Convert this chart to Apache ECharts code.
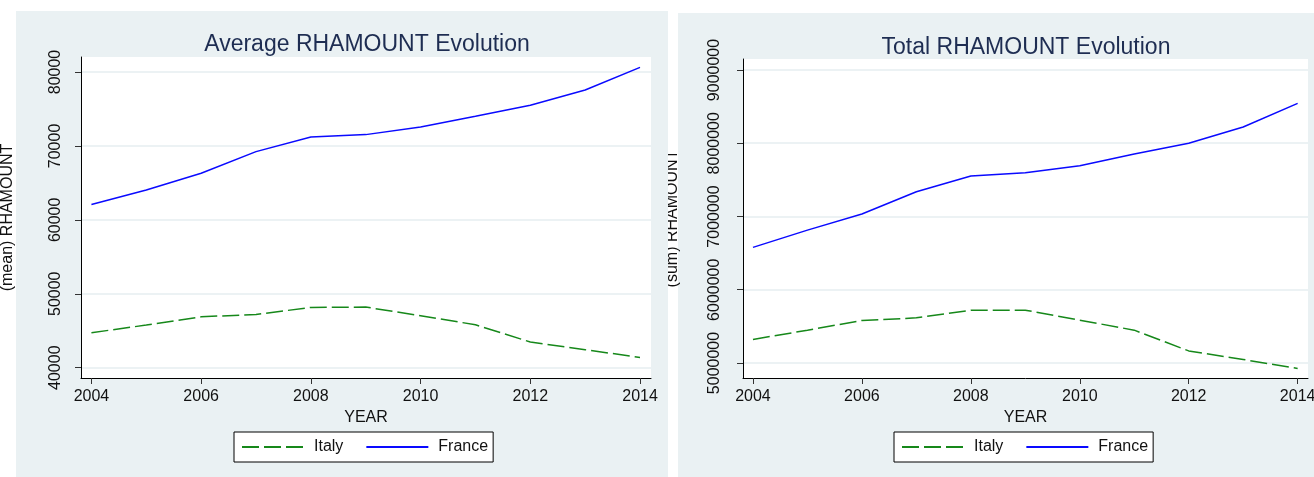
<!DOCTYPE html>
<html>
<head>
<meta charset="utf-8">
<title>RHAMOUNT Evolution</title>
<script src="https://cdn.jsdelivr.net/npm/echarts@6/dist/echarts.min.js"></script>
<style>
  body { margin: 0; background: #fff; }
  .chart { position: absolute; top: 0; height: 477px; }
  #left { left: 0; width: 668px; }
  #right { left: 668px; width: 646px; }
</style>
</head>
<body>
<div id="left" class="chart"></div>
<div id="right" class="chart"></div>
<script>
const years = [2004, 2005, 2006, 2007, 2008, 2009, 2010, 2011, 2012, 2013, 2014]
const yearTicks = [2004, 2006, 2008, 2010, 2012, 2014]

const avgItaly = [44730, 45770, 46890, 47200, 48150, 48200, 47030, 45810, 43470, 42430, 41390]
const avgFrance = [62070, 64050, 66300, 69230, 71200, 71530, 72570, 74010, 75500, 77570, 80630]
const avgTicks = [40000, 50000, 60000, 70000, 80000]

const totItaly = [5321000, 5448000, 5580000, 5616000, 5721000, 5721000, 5585000, 5448000, 5165000, 5048000, 4925000]
const totFrance = [6578000, 6814000, 7033000, 7337000, 7552000, 7597000, 7693000, 7852000, 7999000, 8221000, 8545000]
const totTicks = [5000000, 6000000, 7000000, 8000000, 9000000]

const font = "'Liberation Sans', Arial, sans-serif"
const ink = '#111'
const bg = '#eaf1f3'

const pairs = (ys) => years.map((y, i) => [y, ys[i]])
const plain = (v) => String(v)

const makeOption = (cfg) => ({
  animation: false,
  textStyle: { fontFamily: font },
  graphic: [{
    type: 'rect',
    z: -10,
    shape: cfg.panel,
    style: { fill: bg }
  }],
  title: {
    text: cfg.title,
    left: cfg.titleX,
    top: cfg.titleY,
    textAlign: 'center',
    textStyle: { fontFamily: font, fontSize: 23, fontWeight: 'normal', color: '#1e2d52' }
  },
  grid: {
    left: cfg.grid[0], right: cfg.grid[1], top: cfg.grid[2], bottom: cfg.grid[3],
    containLabel: false,
    outerBoundsMode: 'none',
    show: true, backgroundColor: '#fff', borderWidth: 0
  },
  legend: {
    data: ['Italy', 'France'],
    left: cfg.legendX,
    top: 432,
    backgroundColor: '#fff',
    borderColor: '#000',
    borderWidth: 1,
    borderRadius: 0,
    padding: [7, 5, 7, 7],
    itemGap: 22,
    itemWidth: 62,
    itemHeight: 14,
    itemStyle: { opacity: 0 },
    textStyle: { fontFamily: font, fontSize: 16, color: ink, padding: [0, 0, 0, 5] }
  },
  xAxis: {
    type: 'value',
    min: cfg.xRange[0],
    max: cfg.xRange[1],
    name: 'YEAR',
    nameLocation: 'middle',
    nameGap: 27,
    nameTextStyle: { fontFamily: font, fontSize: 16, color: ink },
    axisLine: { lineStyle: { color: '#000', width: 1 } },
    axisTick: { customValues: yearTicks, length: 6, lineStyle: { color: '#333' } },
    axisLabel: { customValues: yearTicks, formatter: plain, margin: 11, fontFamily: font, fontSize: 16, color: ink },
    splitLine: { show: false }
  },
  yAxis: {
    type: 'value',
    min: cfg.yRange[0],
    max: cfg.yRange[1],
    name: cfg.yName,
    nameLocation: 'middle',
    nameGap: cfg.nameGap,
    nameTextStyle: { fontFamily: font, fontSize: 16, color: ink },
    axisLine: { show: true, lineStyle: { color: '#000', width: 1 } },
    axisTick: { show: true, customValues: cfg.yTicks, length: 6, lineStyle: { color: '#333' } },
    axisLabel: { customValues: cfg.yTicks, formatter: plain, rotate: 90, margin: cfg.labelMargin, fontFamily: font, fontSize: 16, color: ink },
    splitLine: { show: true, lineStyle: { color: '#e6eef0', width: 1.5 } }
  },
  series: [
    {
      name: 'Italy',
      type: 'line',
      showSymbol: false,
      symbol: 'none',
      data: pairs(cfg.italy),
      lineStyle: { color: '#16881a', width: 1.5, type: [17, 5] },
      itemStyle: { color: '#16881a' }
    },
    {
      name: 'France',
      type: 'line',
      showSymbol: false,
      symbol: 'none',
      data: pairs(cfg.france),
      lineStyle: { color: '#0a0aff', width: 1.5 },
      itemStyle: { color: '#0a0aff' }
    }
  ]
})

const leftChart = echarts.init(document.getElementById('left'))
leftChart.setOption(makeOption({
  title: 'Average RHAMOUNT Evolution',
  titleX: 362,
  titleY: 28,
  panel: { x: 16, y: 11, width: 652, height: 466 },
  grid: [81, 17, 57, 99],
  legendX: 234,
  xRange: [2003.81, 2014.2],
  yRange: [38606, 82030],
  yTicks: avgTicks,
  yName: '(mean) RHAMOUNT',
  nameGap: 65,
  labelMargin: 17,
  italy: avgItaly,
  france: avgFrance
}))

const rightChart = echarts.init(document.getElementById('right'))
rightChart.setOption(makeOption({
  title: 'Total RHAMOUNT Evolution',
  titleX: 353,
  titleY: 31,
  panel: { x: 10, y: 13, width: 636, height: 464 },
  grid: [75, 6, 59, 99],
  legendX: 226,
  xRange: [2003.817, 2014.19],
  yRange: [4795000, 9150000],
  yTicks: totTicks,
  yName: '(sum) RHAMOUNT',
  nameGap: 62,
  labelMargin: 20,
  italy: totItaly,
  france: totFrance
}))
</script>
</body>
</html>
